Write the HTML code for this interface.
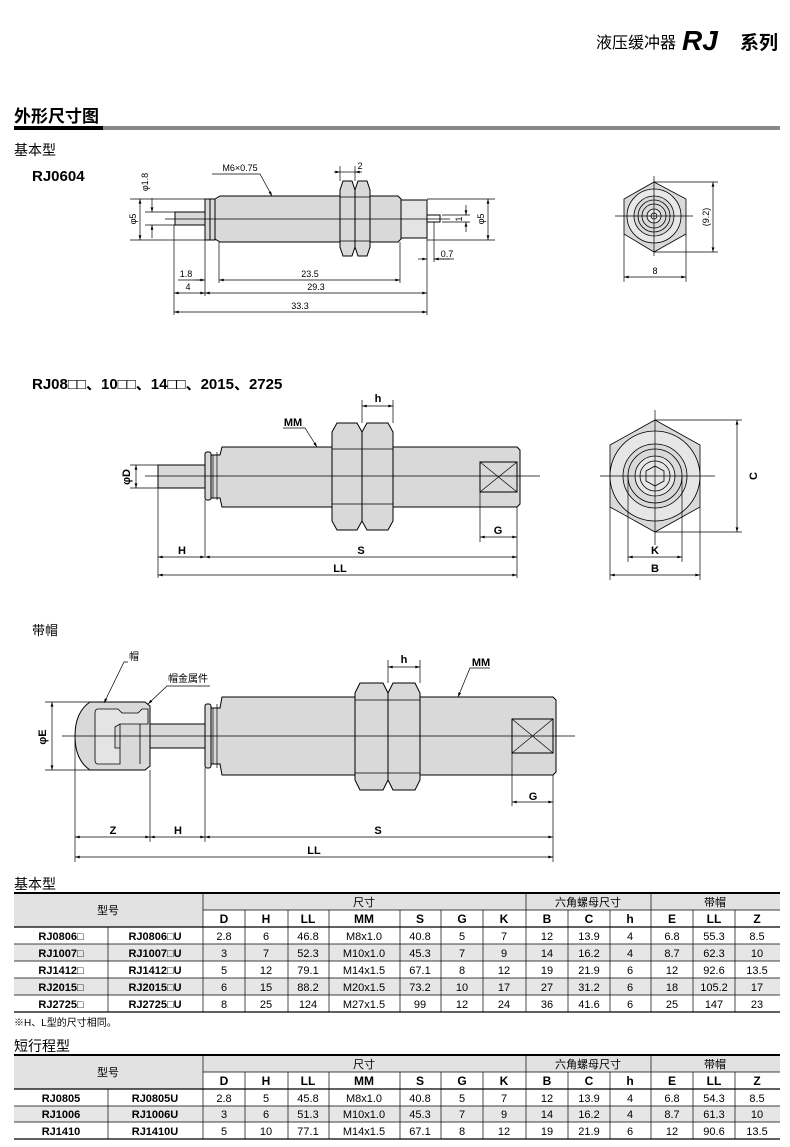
<!DOCTYPE html>
<html><head><meta charset="utf-8"><style>
html,body{margin:0;padding:0;background:#fff;}
svg{display:block;font-family:"Liberation Sans","Noto Sans CJK SC",sans-serif;}
</style></head><body>
<svg width="790" height="1147" viewBox="0 0 790 1147" xmlns="http://www.w3.org/2000/svg">
<defs>
<marker id="a" viewBox="0 0 10 6" refX="10" refY="3" markerWidth="7" markerHeight="4" orient="auto-start-reverse"><path d="M0,0L10,3L0,6z" fill="#000"/></marker>
</defs>
<!-- header -->
<text x="676" y="48" font-size="16" text-anchor="end" font-family="Liberation Sans,Noto Sans CJK SC,sans-serif">液压缓冲器</text>
<text x="682" y="50" font-size="28" font-weight="bold" font-style="italic">RJ</text>
<text x="778" y="49" font-size="19" font-weight="bold" text-anchor="end">系列</text>
<text x="14" y="122" font-size="17" font-weight="bold">外形尺寸图</text>
<rect x="14" y="126" width="89" height="4" fill="#000"/>
<rect x="103" y="126" width="677" height="4" fill="#888"/>
<text x="14" y="155" font-size="14">基本型</text>
<text x="32" y="181" font-size="15" font-weight="bold">RJ0604</text>

<!-- Drawing 1 -->
<g stroke="#000" stroke-width="1" fill="#d9d9d9">
<rect x="175" y="212" width="30" height="13"/>
<rect x="205" y="199" width="5" height="41"/>
<rect x="210" y="199" width="5" height="41"/>
<path d="M215,199 L220,196 L398,196 L401,199 L401,239 L398,242 L220,242 L215,239z"/>
<rect x="401" y="200" width="26" height="38" fill="#e4e4e4"/>
<rect x="427" y="215" width="13" height="7" fill="#fff"/>
<path d="M343,181 L352,181 L355,190 L355,247 L352,256 L343,256 L340,247 L340,190z"/>
<path d="M358,181 L367,181 L370,190 L370,247 L367,256 L358,256 L355,247 L355,190z"/>
</g>
<g stroke="#000" stroke-width="0.7" fill="none">
<line x1="340" y1="197" x2="370" y2="197"/><line x1="340" y1="241" x2="370" y2="241"/>
<line x1="165" y1="219" x2="450" y2="219"/>
<line x1="130" y1="199" x2="205" y2="199"/><line x1="130" y1="240" x2="205" y2="240"/>
<line x1="140" y1="199" x2="140" y2="240" marker-start="url(#a)" marker-end="url(#a)"/>
<line x1="145" y1="212" x2="175" y2="212"/><line x1="145" y1="225" x2="175" y2="225"/>
<line x1="152" y1="198" x2="152" y2="212" marker-end="url(#a)"/><line x1="152" y1="238" x2="152" y2="225" marker-end="url(#a)"/>
<line x1="427" y1="199" x2="495" y2="199"/><line x1="427" y1="240" x2="495" y2="240"/>
<line x1="488" y1="199" x2="488" y2="240" marker-start="url(#a)" marker-end="url(#a)"/>
<line x1="442" y1="215" x2="470" y2="215"/><line x1="442" y1="222" x2="470" y2="222"/>
<line x1="466" y1="205" x2="466" y2="215" marker-end="url(#a)"/><line x1="466" y1="232" x2="466" y2="222" marker-end="url(#a)"/>
<line x1="174" y1="225" x2="174" y2="315"/>
<line x1="205" y1="240" x2="205" y2="296"/>
<line x1="219" y1="242" x2="219" y2="283"/>
<line x1="400" y1="242" x2="400" y2="283"/>
<line x1="427" y1="238" x2="427" y2="315"/>
<line x1="434" y1="222" x2="434" y2="262"/>
<line x1="418" y1="259" x2="427" y2="259" marker-end="url(#a)"/><line x1="450" y1="259" x2="434" y2="259" marker-end="url(#a)"/>
<line x1="434" y1="259" x2="454" y2="259"/>
<line x1="178" y1="280" x2="205" y2="280"/><line x1="195" y1="280" x2="205" y2="280" marker-end="url(#a)"/>
<line x1="219" y1="280" x2="400" y2="280" marker-start="url(#a)" marker-end="url(#a)"/>
<line x1="174" y1="293" x2="205" y2="293" marker-start="url(#a)" marker-end="url(#a)"/>
<line x1="205" y1="293" x2="427" y2="293" marker-start="url(#a)" marker-end="url(#a)"/>
<line x1="174" y1="312" x2="427" y2="312" marker-start="url(#a)" marker-end="url(#a)"/>
<line x1="340" y1="166" x2="340" y2="181"/><line x1="355" y1="166" x2="355" y2="181"/>
<line x1="334" y1="172" x2="340" y2="172" marker-end="url(#a)"/><line x1="362" y1="172" x2="355" y2="172" marker-end="url(#a)"/>
<line x1="340" y1="172" x2="355" y2="172"/>
<polyline points="212,174 260,174 272,196" marker-end="url(#a)"/>
</g>
<g font-size="9" text-anchor="middle">
<text x="240" y="171">M6×0.75</text>
<text x="360" y="169">2</text>
<text x="186" y="277">1.8</text>
<text x="310" y="277">23.5</text>
<text x="188" y="290">4</text>
<text x="316" y="290">29.3</text>
<text x="300" y="309">33.3</text>
<text x="447" y="257">0.7</text>
<text transform="translate(136,219) rotate(-90)">φ5</text>
<text transform="translate(148,182) rotate(-90)">φ1.8</text>
<text transform="translate(484,219) rotate(-90)">φ5</text>
<text transform="translate(462,219) rotate(-90)">1</text>
</g>
<!-- right view 1 -->
<g stroke="#000" stroke-width="0.8">
<polygon points="654,182 686,199 686,234 654,252 624,234 624,199" fill="#d9d9d9"/>
<circle cx="654" cy="216" r="27" fill="#e8e8e8"/>
<circle cx="654" cy="216" r="20" fill="#d9d9d9"/>
<circle cx="654" cy="216" r="16" fill="none"/>
<circle cx="654" cy="216" r="12" fill="none"/>
<circle cx="654" cy="216" r="7" fill="#e8e8e8"/>
<circle cx="654" cy="216" r="3" fill="none"/>
</g>
<g stroke="#000" stroke-width="0.7" fill="none">
<line x1="615" y1="216" x2="693" y2="216"/><line x1="654" y1="176" x2="654" y2="256"/>
<line x1="654" y1="182" x2="718" y2="182"/><line x1="654" y1="252" x2="718" y2="252"/>
<line x1="713" y1="182" x2="713" y2="252" marker-start="url(#a)" marker-end="url(#a)"/>
<line x1="624" y1="234" x2="624" y2="282"/><line x1="686" y1="234" x2="686" y2="282"/>
<line x1="624" y1="277" x2="686" y2="277" marker-start="url(#a)" marker-end="url(#a)"/>
</g>
<text x="655" y="274" font-size="9" text-anchor="middle">8</text>
<text transform="translate(709,217) rotate(-90)" font-size="9" text-anchor="middle">(9.2)</text>

<!-- Drawing 2 -->
<text x="32" y="389" font-size="15" font-weight="bold">RJ08□□、10□□、14□□、2015、2725</text>
<g stroke="#000" stroke-width="1" fill="#d9d9d9">
<rect x="158" y="465" width="47" height="23"/>
<rect x="205" y="452" width="6" height="48" rx="2"/>
<path d="M211,455 L220,455 L222,447 L517,447 L520,450 L520,504 L517,507 L222,507 L220,498 L211,498z"/>
<rect x="480" y="462" width="37" height="30"/>
<path d="M337,423 L357,423 L362,432 L362,521 L357,530 L337,530 L332,521 L332,432z"/>
<path d="M367,423 L388,423 L393,432 L393,521 L388,530 L367,530 L362,521 L362,432z"/>
</g>
<g stroke="#000" stroke-width="0.7" fill="none">
<line x1="332" y1="449" x2="393" y2="449"/><line x1="332" y1="504" x2="393" y2="504"/>
<line x1="480" y1="462" x2="517" y2="492"/><line x1="480" y1="492" x2="517" y2="462"/>
<line x1="213" y1="455" x2="213" y2="498"/><line x1="217" y1="452" x2="217" y2="500"/>
<line x1="145" y1="476" x2="540" y2="476"/>
<line x1="130" y1="465" x2="158" y2="465"/><line x1="130" y1="488" x2="158" y2="488"/>
<line x1="136" y1="465" x2="136" y2="488" marker-start="url(#a)" marker-end="url(#a)"/>
<line x1="158" y1="488" x2="158" y2="578"/><line x1="205" y1="500" x2="205" y2="556"/>
<line x1="517" y1="507" x2="517" y2="578"/><line x1="480" y1="492" x2="480" y2="542"/>
<line x1="158" y1="557" x2="205" y2="557" marker-start="url(#a)" marker-end="url(#a)"/>
<line x1="205" y1="557" x2="517" y2="557" marker-start="url(#a)" marker-end="url(#a)"/>
<line x1="158" y1="575" x2="517" y2="575" marker-start="url(#a)" marker-end="url(#a)"/>
<line x1="480" y1="537" x2="517" y2="537" marker-start="url(#a)" marker-end="url(#a)"/>
<line x1="362" y1="400" x2="362" y2="423"/><line x1="393" y1="400" x2="393" y2="423"/>
<line x1="362" y1="406" x2="393" y2="406" marker-start="url(#a)" marker-end="url(#a)"/>
<polyline points="283,428 305,428 317,447" marker-end="url(#a)"/>
</g>
<g font-size="11" font-weight="bold" text-anchor="middle">
<text x="378" y="402">h</text><text x="293" y="426">MM</text>
<text x="498" y="534">G</text><text x="182" y="554">H</text><text x="361" y="554">S</text><text x="340" y="572">LL</text>
<text transform="translate(130,477) rotate(-90)">φD</text>
</g>
<!-- right view 2 -->
<g stroke="#000" stroke-width="0.8">
<polygon points="655,420 700,445 700,507 655,532 610,507 610,445" fill="#d9d9d9"/>
<circle cx="655" cy="476" r="45" fill="#e6e6e6"/>
<circle cx="655" cy="476" r="32" fill="#d9d9d9"/>
<circle cx="655" cy="476" r="27" fill="none"/>
<circle cx="655" cy="476" r="20" fill="#e6e6e6"/>
<circle cx="655" cy="476" r="15" fill="none"/>
<polygon points="655,466 664,471 664,481 655,486 646,481 646,471" fill="#e6e6e6"/>
</g>
<g stroke="#000" stroke-width="0.7" fill="none">
<line x1="600" y1="476" x2="715" y2="476"/><line x1="655" y1="410" x2="655" y2="545"/>
<line x1="655" y1="420" x2="742" y2="420"/><line x1="655" y1="532" x2="742" y2="532"/>
<line x1="737" y1="420" x2="737" y2="532" marker-start="url(#a)" marker-end="url(#a)"/>
<line x1="628" y1="476" x2="628" y2="562"/><line x1="682" y1="476" x2="682" y2="562"/>
<line x1="628" y1="557" x2="682" y2="557" marker-start="url(#a)" marker-end="url(#a)"/>
<line x1="610" y1="507" x2="610" y2="580"/><line x1="700" y1="507" x2="700" y2="580"/>
<line x1="610" y1="575" x2="700" y2="575" marker-start="url(#a)" marker-end="url(#a)"/>
</g>
<g font-size="11" font-weight="bold" text-anchor="middle">
<text x="655" y="554">K</text><text x="655" y="572">B</text>
<text transform="translate(757,476) rotate(-90)">C</text>
</g>

<!-- Drawing 3 -->
<text x="32" y="635" font-size="13">带帽</text>
<g stroke="#000" stroke-width="1" fill="#d9d9d9">
<path d="M90,702 L145,702 L150,706 L150,766 L145,770 L90,770 Q75,760 75,736 Q75,712 90,702z"/>
<rect x="150" y="724" width="55" height="24"/>
<rect x="205" y="704" width="6" height="64" rx="2"/>
<path d="M211,708 L220,708 L222,697 L553,697 L556,700 L556,772 L553,775 L222,775 L220,764 L211,764z"/>
<rect x="512" y="719" width="41" height="34"/>
<path d="M360,683 L383,683 L388,693 L388,780 L383,790 L360,790 L355,780 L355,693z"/>
<path d="M393,683 L415,683 L420,693 L420,780 L415,790 L393,790 L388,780 L388,693z"/>
</g>
<g stroke="#000" stroke-width="0.8">
<path d="M98,709 L118,709 L122,713 L138,713 L142,709 L148,709 L148,724 L120,724 L115,727 L115,748 L120,748 L120,764 L98,764 Q95,764 95,760 L95,713 Q95,709 98,709z" fill="#e4e4e4"/>
<line x1="120" y1="724" x2="120" y2="748"/><line x1="140" y1="724" x2="140" y2="764"/>
</g>
<g stroke="#000" stroke-width="0.7" fill="none">
<line x1="355" y1="700" x2="420" y2="700"/><line x1="355" y1="773" x2="420" y2="773"/>
<line x1="512" y1="719" x2="553" y2="753"/><line x1="512" y1="753" x2="553" y2="719"/>
<line x1="213" y1="708" x2="213" y2="764"/><line x1="217" y1="704" x2="217" y2="768"/>
<line x1="62" y1="736" x2="575" y2="736"/>
<line x1="45" y1="702" x2="90" y2="702"/><line x1="45" y1="770" x2="90" y2="770"/>
<line x1="52" y1="702" x2="52" y2="770" marker-start="url(#a)" marker-end="url(#a)"/>
<line x1="75" y1="740" x2="75" y2="862"/><line x1="150" y1="770" x2="150" y2="842"/>
<line x1="205" y1="768" x2="205" y2="842"/><line x1="553" y1="775" x2="553" y2="862"/>
<line x1="512" y1="753" x2="512" y2="806"/>
<line x1="75" y1="837" x2="150" y2="837" marker-start="url(#a)" marker-end="url(#a)"/>
<line x1="150" y1="837" x2="205" y2="837" marker-start="url(#a)" marker-end="url(#a)"/>
<line x1="205" y1="837" x2="553" y2="837" marker-start="url(#a)" marker-end="url(#a)"/>
<line x1="75" y1="857" x2="553" y2="857" marker-start="url(#a)" marker-end="url(#a)"/>
<line x1="512" y1="802" x2="553" y2="802" marker-start="url(#a)" marker-end="url(#a)"/>
<line x1="388" y1="660" x2="388" y2="683"/><line x1="420" y1="660" x2="420" y2="683"/>
<line x1="388" y1="667" x2="420" y2="667" marker-start="url(#a)" marker-end="url(#a)"/>
<polyline points="490,668 470,668 458,697" marker-end="url(#a)"/>
<polyline points="128,662 124,662 104,703" marker-end="url(#a)"/>
<polyline points="210,686 167,686 148,704" marker-end="url(#a)"/>
</g>
<g font-size="11" font-weight="bold" text-anchor="middle">
<text x="404" y="663">h</text><text x="481" y="666">MM</text>
<text x="533" y="800">G</text><text x="113" y="834">Z</text><text x="178" y="834">H</text><text x="378" y="834">S</text><text x="314" y="854">LL</text>
<text transform="translate(46,737) rotate(-90)">φE</text>
</g>
<text x="134" y="660" font-size="10" text-anchor="middle">帽</text>
<text x="188" y="682" font-size="10" text-anchor="middle">帽金属件</text>

<!-- Table 1 -->
<text x="14" y="889" font-size="14">基本型</text>
<g>
<rect x="14" y="893" width="766" height="34" fill="#e2e2e2"/>
<rect x="14" y="944" width="766" height="17" fill="#e6e6e6"/>
<rect x="14" y="978" width="766" height="17" fill="#e6e6e6"/>
<rect x="203" y="910" width="577" height="17" fill="#fff"/>
</g>
<g stroke="#000" stroke-width="0.7">
<line x1="14" y1="893" x2="780" y2="893" stroke-width="2"/>
<line x1="203" y1="910" x2="780" y2="910"/>
<line x1="14" y1="927" x2="780" y2="927" stroke-width="1.2"/>
<line x1="14" y1="944" x2="780" y2="944"/><line x1="14" y1="961" x2="780" y2="961"/><line x1="14" y1="978" x2="780" y2="978"/><line x1="14" y1="995" x2="780" y2="995"/>
<line x1="14" y1="1012" x2="780" y2="1012" stroke-width="1.2"/>
<line x1="108" y1="927" x2="108" y2="1012"/>
<line x1="203" y1="893" x2="203" y2="1012"/><line x1="526" y1="893" x2="526" y2="1012"/><line x1="651" y1="893" x2="651" y2="1012"/>
<g><line x1="245" y1="910" x2="245" y2="1012"/><line x1="288" y1="910" x2="288" y2="1012"/><line x1="329" y1="910" x2="329" y2="1012"/><line x1="400" y1="910" x2="400" y2="1012"/><line x1="441" y1="910" x2="441" y2="1012"/><line x1="483" y1="910" x2="483" y2="1012"/><line x1="568" y1="910" x2="568" y2="1012"/><line x1="610" y1="910" x2="610" y2="1012"/><line x1="693" y1="910" x2="693" y2="1012"/><line x1="735" y1="910" x2="735" y2="1012"/></g>
</g>
<g font-size="11" text-anchor="middle">
<text x="108" y="914">型号</text><text x="364" y="906">尺寸</text><text x="588" y="906">六角螺母尺寸</text><text x="715" y="906">带帽</text>
</g>
<g font-size="12" font-weight="bold" text-anchor="middle">
<text x="224" y="923">D</text><text x="266" y="923">H</text><text x="308" y="923">LL</text><text x="364" y="923">MM</text><text x="420" y="923">S</text><text x="462" y="923">G</text><text x="504" y="923">K</text><text x="547" y="923">B</text><text x="589" y="923">C</text><text x="630" y="923">h</text><text x="672" y="923">E</text><text x="714" y="923">LL</text><text x="757" y="923">Z</text>
</g>
<g font-size="11" text-anchor="middle">
<g font-weight="bold"><text x="61" y="940">RJ0806□</text><text x="155" y="940">RJ0806□U</text></g>
<text x="224" y="940">2.8</text><text x="266" y="940">6</text><text x="308" y="940">46.8</text><text x="364" y="940">M8x1.0</text><text x="420" y="940">40.8</text><text x="462" y="940">5</text><text x="504" y="940">7</text><text x="547" y="940">12</text><text x="589" y="940">13.9</text><text x="630" y="940">4</text><text x="672" y="940">6.8</text><text x="714" y="940">55.3</text><text x="757" y="940">8.5</text>
<g font-weight="bold"><text x="61" y="957">RJ1007□</text><text x="155" y="957">RJ1007□U</text></g>
<text x="224" y="957">3</text><text x="266" y="957">7</text><text x="308" y="957">52.3</text><text x="364" y="957">M10x1.0</text><text x="420" y="957">45.3</text><text x="462" y="957">7</text><text x="504" y="957">9</text><text x="547" y="957">14</text><text x="589" y="957">16.2</text><text x="630" y="957">4</text><text x="672" y="957">8.7</text><text x="714" y="957">62.3</text><text x="757" y="957">10</text>
<g font-weight="bold"><text x="61" y="974">RJ1412□</text><text x="155" y="974">RJ1412□U</text></g>
<text x="224" y="974">5</text><text x="266" y="974">12</text><text x="308" y="974">79.1</text><text x="364" y="974">M14x1.5</text><text x="420" y="974">67.1</text><text x="462" y="974">8</text><text x="504" y="974">12</text><text x="547" y="974">19</text><text x="589" y="974">21.9</text><text x="630" y="974">6</text><text x="672" y="974">12</text><text x="714" y="974">92.6</text><text x="757" y="974">13.5</text>
<g font-weight="bold"><text x="61" y="991">RJ2015□</text><text x="155" y="991">RJ2015□U</text></g>
<text x="224" y="991">6</text><text x="266" y="991">15</text><text x="308" y="991">88.2</text><text x="364" y="991">M20x1.5</text><text x="420" y="991">73.2</text><text x="462" y="991">10</text><text x="504" y="991">17</text><text x="547" y="991">27</text><text x="589" y="991">31.2</text><text x="630" y="991">6</text><text x="672" y="991">18</text><text x="714" y="991">105.2</text><text x="757" y="991">17</text>
<g font-weight="bold"><text x="61" y="1008">RJ2725□</text><text x="155" y="1008">RJ2725□U</text></g>
<text x="224" y="1008">8</text><text x="266" y="1008">25</text><text x="308" y="1008">124</text><text x="364" y="1008">M27x1.5</text><text x="420" y="1008">99</text><text x="462" y="1008">12</text><text x="504" y="1008">24</text><text x="547" y="1008">36</text><text x="589" y="1008">41.6</text><text x="630" y="1008">6</text><text x="672" y="1008">25</text><text x="714" y="1008">147</text><text x="757" y="1008">23</text>
</g>
<text x="14" y="1026" font-size="10">※H、L型的尺寸相同。</text>

<!-- Table 2 -->
<text x="14" y="1051" font-size="14">短行程型</text>
<g>
<rect x="14" y="1055" width="766" height="34" fill="#e2e2e2"/>
<rect x="14" y="1106" width="766" height="16" fill="#e6e6e6"/>
<rect x="203" y="1072" width="577" height="17" fill="#fff"/>
</g>
<g stroke="#000" stroke-width="0.7">
<line x1="14" y1="1055" x2="780" y2="1055" stroke-width="2"/>
<line x1="203" y1="1072" x2="780" y2="1072"/>
<line x1="14" y1="1089" x2="780" y2="1089" stroke-width="1.2"/>
<line x1="14" y1="1106" x2="780" y2="1106"/><line x1="14" y1="1122" x2="780" y2="1122"/>
<line x1="14" y1="1139" x2="780" y2="1139" stroke-width="1.2"/>
<line x1="108" y1="1089" x2="108" y2="1139"/>
<line x1="203" y1="1055" x2="203" y2="1139"/><line x1="526" y1="1055" x2="526" y2="1139"/><line x1="651" y1="1055" x2="651" y2="1139"/>
<line x1="245" y1="1072" x2="245" y2="1139"/><line x1="288" y1="1072" x2="288" y2="1139"/><line x1="329" y1="1072" x2="329" y2="1139"/><line x1="400" y1="1072" x2="400" y2="1139"/><line x1="441" y1="1072" x2="441" y2="1139"/><line x1="483" y1="1072" x2="483" y2="1139"/><line x1="568" y1="1072" x2="568" y2="1139"/><line x1="610" y1="1072" x2="610" y2="1139"/><line x1="693" y1="1072" x2="693" y2="1139"/><line x1="735" y1="1072" x2="735" y2="1139"/>
</g>
<g font-size="11" text-anchor="middle">
<text x="108" y="1076">型号</text><text x="364" y="1068">尺寸</text><text x="588" y="1068">六角螺母尺寸</text><text x="715" y="1068">带帽</text>
</g>
<g font-size="12" font-weight="bold" text-anchor="middle">
<text x="224" y="1085">D</text><text x="266" y="1085">H</text><text x="308" y="1085">LL</text><text x="364" y="1085">MM</text><text x="420" y="1085">S</text><text x="462" y="1085">G</text><text x="504" y="1085">K</text><text x="547" y="1085">B</text><text x="589" y="1085">C</text><text x="630" y="1085">h</text><text x="672" y="1085">E</text><text x="714" y="1085">LL</text><text x="757" y="1085">Z</text>
</g>
<g font-size="11" text-anchor="middle">
<g font-weight="bold"><text x="61" y="1102">RJ0805</text><text x="155" y="1102">RJ0805U</text></g>
<text x="224" y="1102">2.8</text><text x="266" y="1102">5</text><text x="308" y="1102">45.8</text><text x="364" y="1102">M8x1.0</text><text x="420" y="1102">40.8</text><text x="462" y="1102">5</text><text x="504" y="1102">7</text><text x="547" y="1102">12</text><text x="589" y="1102">13.9</text><text x="630" y="1102">4</text><text x="672" y="1102">6.8</text><text x="714" y="1102">54.3</text><text x="757" y="1102">8.5</text>
<g font-weight="bold"><text x="61" y="1118">RJ1006</text><text x="155" y="1118">RJ1006U</text></g>
<text x="224" y="1118">3</text><text x="266" y="1118">6</text><text x="308" y="1118">51.3</text><text x="364" y="1118">M10x1.0</text><text x="420" y="1118">45.3</text><text x="462" y="1118">7</text><text x="504" y="1118">9</text><text x="547" y="1118">14</text><text x="589" y="1118">16.2</text><text x="630" y="1118">4</text><text x="672" y="1118">8.7</text><text x="714" y="1118">61.3</text><text x="757" y="1118">10</text>
<g font-weight="bold"><text x="61" y="1135">RJ1410</text><text x="155" y="1135">RJ1410U</text></g>
<text x="224" y="1135">5</text><text x="266" y="1135">10</text><text x="308" y="1135">77.1</text><text x="364" y="1135">M14x1.5</text><text x="420" y="1135">67.1</text><text x="462" y="1135">8</text><text x="504" y="1135">12</text><text x="547" y="1135">19</text><text x="589" y="1135">21.9</text><text x="630" y="1135">6</text><text x="672" y="1135">12</text><text x="714" y="1135">90.6</text><text x="757" y="1135">13.5</text>
</g>
</svg>
</body></html>
